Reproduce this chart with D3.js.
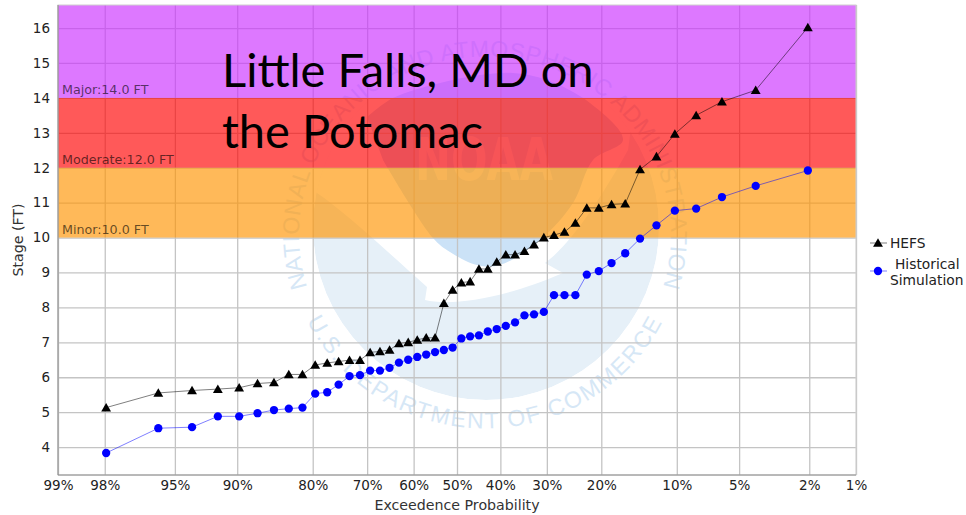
<!DOCTYPE html>
<html lang="en">
  <head>
    <meta charset="utf-8" />
    <title>Little Falls, MD on the Potomac</title>
    <script src="https://cdnjs.cloudflare.com/ajax/libs/d3/7.8.5/d3.min.js"></script>
    <style type="text/css">
      html, body { margin: 0; padding: 0; background: #fff; }
      svg { display: block; }
      text { font-family: "DejaVu Sans", sans-serif; }
      .axis text { font-size: 13.5px; fill: #222; }
      .axisLabel { font-size: 14.2px; fill: #333; }
      .bandLabel { font-size: 12.7px; fill: #000; fill-opacity: 0.62; }
      .legendText { font-size: 13.8px; fill: #222; }
      .title { font-family: Lato, sans-serif; font-size: 47px; fill: #000; }
      .seal { font-family: "Liberation Sans", sans-serif; font-size: 23px; fill: #d6e7f6; }
    </style>
  </head>

  <body>
    <script>
      const width = 966;
      const height = 515;
      const marginTop = 5;
      const marginRight = 110;
      const marginBottom = 40;
      const marginLeft = 58;

      // exceedance probability of each ranked member, in percent
      const probabilities = [
        97.96, 95.92, 93.88, 91.84, 89.80, 87.76, 85.71, 83.67, 81.63, 79.59,
        77.55, 75.51, 73.47, 71.43, 69.39, 67.35, 65.31, 63.27, 61.22, 59.18,
        57.14, 55.10, 53.06, 51.02, 48.98, 46.94, 44.90, 42.86, 40.82, 38.78,
        36.73, 34.69, 32.65, 30.61, 28.57, 26.53, 24.49, 22.45, 20.41, 18.37,
        16.33, 14.29, 12.24, 10.20, 8.16, 6.12, 4.08, 2.04
      ];
      const hefs = [
        5.13, 5.55, 5.62, 5.66, 5.70, 5.82, 5.85, 6.08, 6.08, 6.35,
        6.41, 6.45, 6.49, 6.49, 6.71, 6.74, 6.78, 6.97, 7.00, 7.07,
        7.13, 7.13, 8.12, 8.50, 8.71, 8.74, 9.10, 9.10, 9.30, 9.51,
        9.51, 9.61, 9.80, 10.00, 10.07, 10.16, 10.42, 10.85, 10.85, 10.95,
        10.97, 11.95, 12.32, 12.97, 13.50, 13.89, 14.22, 16.02
      ];
      const historical = [
        3.83, 4.54, 4.57, 4.88, 4.88, 4.97, 5.06, 5.10, 5.13, 5.53,
        5.57, 5.79, 6.03, 6.06, 6.19, 6.19, 6.27, 6.42, 6.50, 6.58,
        6.65, 6.72, 6.78, 6.85, 7.11, 7.17, 7.20, 7.31, 7.38, 7.47,
        7.57, 7.77, 7.80, 7.87, 8.35, 8.35, 8.35, 8.94, 9.04, 9.27,
        9.55, 9.97, 10.35, 10.77, 10.83, 11.16, 11.48, 11.92
      ];
      const xTicks = [99, 98, 95, 90, 80, 70, 60, 50, 40, 30, 20, 10, 5, 2, 1];
      const yTicks = [4, 5, 6, 7, 8, 9, 10, 11, 12, 13, 14, 15, 16];
      const bandNames = ["Minor", "Moderate", "Major"];
      const bandFrom = [10, 12, 14];
      const bandColors = ["#ff9400", "#ff0000", "#cb2fff"];

      // normal quantile (Abramowitz & Stegun 26.2.23), the paper's x transform
      function probit(percent) {
        const p = percent / 100;
        const q = Math.min(p, 1 - p);
        const t = Math.sqrt(-2 * Math.log(q));
        const z = t - (2.515517 + 0.802853 * t + 0.010328 * t * t) /
          (1 + 1.432788 * t + 0.189269 * t * t + 0.001308 * t * t * t);
        return p < 0.5 ? z : -z;
      }

      const xz = d3.scaleLinear([probit(99), probit(1)], [marginLeft, width - marginRight]);
      const x = p => xz(probit(p));
      const y = d3.scaleLinear([3.2, 16.66], [height - marginBottom, marginTop]);

      const svg = d3.select("body").append("svg")
        .attr("width", width)
        .attr("height", height)
        .attr("viewBox", [0, 0, width, height]);

      // NOAA seal behind the plot
      const cx = 486, cy = 227, r = 173;
      const seal = svg.append("g");
      const defs = svg.append("defs");
      defs.append("clipPath").attr("id", "sealClip")
        .append("circle").attr("cx", cx).attr("cy", cy).attr("r", r);
      defs.append("path").attr("id", "sealTop")
        .attr("d", "M310,295 A186,178 0 1 1 660,295");
      defs.append("path").attr("id", "sealBottom")
        .attr("d", "M303,312 A198,192 0 0 0 667,312");

      const curve = d3.line().curve(d3.curveCatmullRom.alpha(0.5));
      const inner = seal.append("g").attr("clip-path", "url(#sealClip)");
      inner.append("circle").attr("cx", cx).attr("cy", cy).attr("r", r).attr("fill", "#e6f0f8");
      // white top of the disc and the swoosh under the bird
      inner.append("path").attr("fill", "#fff")
        .attr("d", "M290,190 L317,193 C345,212 380,245 427,287 L425,300 C450,306 500,300 563,273 L545,263 C570,245 600,200 628,150 L640,60 L300,30 Z");
      inner.append("path").attr("fill", "#cbe2f7")
        .attr("d", curve([[367,117],[393,98],[440,83],[480,75],[513,73],[547,80],[590,103],[623,140],[593,160],[573,203],[540,240],[500,265],[477,265],[450,252],[433,238],[383,160]]) + "Z");
      seal.append("text").attr("x", 484).attr("y", 180)
        .attr("text-anchor", "middle")
        .attr("textLength", 138)
        .attr("lengthAdjust", "spacingAndGlyphs")
        .attr("font-family", "Liberation Sans")
        .attr("font-weight", "bold")
        .attr("font-size", 58)
        .attr("fill", "#e8f1fa")
        .text("NOAA");
      seal.append("text").attr("class", "seal")
        .attr("letter-spacing", 0.6)
        .append("textPath").attr("href", "#sealTop").attr("startOffset", "50%")
        .attr("text-anchor", "middle")
        .text("NATIONAL OCEANIC AND ATMOSPHERIC ADMINISTRATION");
      seal.append("text").attr("class", "seal")
        .attr("letter-spacing", 1.8)
        .append("textPath").attr("href", "#sealBottom").attr("startOffset", "50%")
        .attr("text-anchor", "middle")
        .text("U.S. DEPARTMENT OF COMMERCE");

      // grid lines and axes
      svg.append("g").attr("class", "axis")
        .attr("transform", `translate(${marginLeft},0)`)
        .call(d3.axisLeft(y).tickValues(yTicks).tickSize(0).tickPadding(8).tickFormat(d3.format("d")))
        .call(g => g.select(".domain").remove())
        .call(g => g.selectAll(".tick line")
          .attr("x2", width - marginLeft - marginRight)
          .attr("stroke", "#c4c4c4")
          .attr("stroke-width", 1.3));

      svg.append("g").attr("class", "axis")
        .attr("transform", `translate(0,${height - marginBottom})`)
        .call(d3.axisBottom(xz).tickValues(xTicks.map(probit)).tickSize(0).tickPadding(5)
          .tickFormat((d, i) => xTicks[i] + "%"))
        .call(g => g.select(".domain").remove())
        .call(g => g.selectAll(".tick line")
          .attr("y2", -(height - marginTop - marginBottom))
          .attr("stroke", "#c4c4c4")
          .attr("stroke-width", 1.3));

      svg.append("g").selectAll("rect")
        .data(bandFrom)
        .join("rect")
        .attr("x", marginLeft)
        .attr("width", width - marginLeft - marginRight)
        .attr("y", (d, i) => i === 2 ? marginTop : y(bandFrom[i + 1]))
        .attr("height", (d, i) => y(d) - (i === 2 ? marginTop : y(bandFrom[i + 1])))
        .attr("fill", (d, i) => bandColors[i])
        .attr("fill-opacity", 0.65);

      svg.append("g").selectAll("text")
        .data(bandNames)
        .join("text")
        .attr("class", "bandLabel")
        .attr("x", marginLeft + 4)
        .attr("y", (d, i) => y(bandFrom[i]) - 4)
        .text((d, i) => `${d}:${bandFrom[i].toFixed(1)} FT`);

      // plot frame
      svg.append("rect")
        .attr("x", marginLeft).attr("y", marginTop)
        .attr("width", width - marginLeft - marginRight)
        .attr("height", height - marginTop - marginBottom)
        .attr("fill", "none").attr("stroke", "#d0d0d0");
      svg.append("path").attr("fill", "none").attr("stroke", "#8a8a8a")
        .attr("d", d3.line()([[marginLeft, marginTop], [marginLeft, height - marginBottom], [width - marginRight, height - marginBottom]]));

      // series
      const line = d3.line()
        .x((d, i) => x(probabilities[i]))
        .y(d => y(d));
      const triangle = d3.symbol(d3.symbolTriangle, 42);
      const circle = d3.symbol(d3.symbolCircle, 54);

      svg.append("path").attr("fill", "none").attr("stroke", "#000").attr("stroke-opacity", 0.5)
        .attr("d", line(hefs));
      svg.append("path").attr("fill", "none").attr("stroke", "#0000ff").attr("stroke-opacity", 0.5)
        .attr("d", line(historical));

      svg.append("g").selectAll("path")
        .data(hefs)
        .join("path")
        .attr("d", triangle)
        .attr("fill", "#000")
        .attr("transform", (d, i) => `translate(${x(probabilities[i])},${y(d) + 1})`);
      svg.append("g").selectAll("path")
        .data(historical)
        .join("path")
        .attr("d", circle)
        .attr("fill", "#0000ff")
        .attr("transform", (d, i) => `translate(${x(probabilities[i])},${y(d)})`);

      // axis titles
      svg.append("text").attr("class", "axisLabel")
        .attr("x", 457).attr("y", 510)
        .attr("text-anchor", "middle")
        .text("Exceedence Probability");
      svg.append("text").attr("class", "axisLabel")
        .attr("transform", "translate(23,240) rotate(-90)")
        .attr("text-anchor", "middle")
        .text("Stage (FT)");

      // legend
      const legend = svg.append("g");
      legend.append("path").attr("stroke", "#000").attr("stroke-opacity", 0.5)
        .attr("d", d3.line()([[870, 243], [887, 243]]));
      legend.append("path").attr("d", triangle).attr("fill", "#000")
        .attr("transform", "translate(878,244)");
      legend.append("text").attr("class", "legendText").attr("x", 890).attr("y", 248).text("HEFS");
      legend.append("path").attr("stroke", "#0000ff").attr("stroke-opacity", 0.5)
        .attr("d", d3.line()([[870, 271], [887, 271]]));
      legend.append("path").attr("d", circle).attr("fill", "#0000ff")
        .attr("transform", "translate(878,271)");
      legend.append("text").attr("class", "legendText").attr("x", 895).attr("y", 269).text("Historical");
      legend.append("text").attr("class", "legendText").attr("x", 890).attr("y", 285).text("Simulation");

      // slide title pasted over the chart
      svg.append("text").attr("class", "title").attr("x", 222).attr("y", 87).text("Little Falls, MD on");
      svg.append("text").attr("class", "title").attr("x", 222).attr("y", 148).text("the Potomac");
    </script>
  </body>
</html>
